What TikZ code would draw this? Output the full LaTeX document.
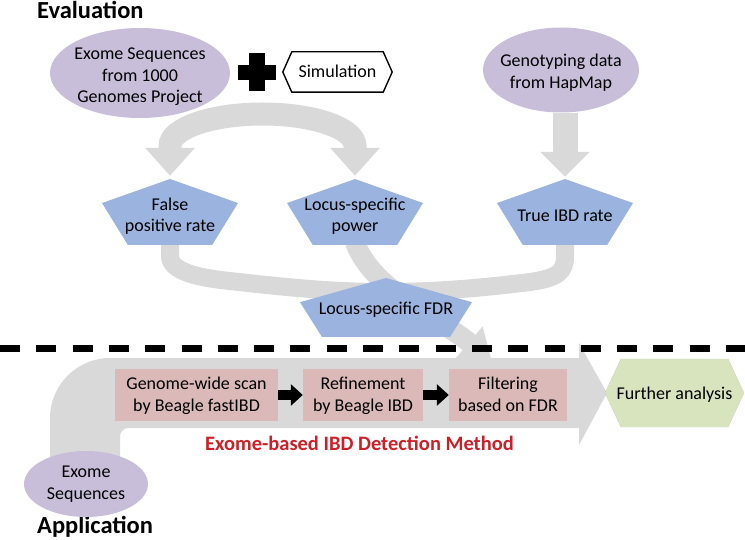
\documentclass[tikz,border=0pt]{standalone}
\usepackage{fontspec}
\setmainfont{Carlito}
\usetikzlibrary{arrows.meta,calc}
\definecolor{grayarrow}{RGB}{217,217,217}
\definecolor{lilac}{RGB}{200,190,218}
\definecolor{pentblue}{RGB}{155,179,223}
\definecolor{boxpink}{RGB}{218,185,184}
\definecolor{hexgreen}{RGB}{215,228,189}
\definecolor{methodred}{RGB}{206,30,38}
\pgfdeclarelayer{arrowlayer}
\pgfdeclarelayer{shapelayer}
\pgfsetlayers{arrowlayer,shapelayer,main}
% text block lowered by #1 without changing its box
\newcommand{\lowtext}[2]{\raisebox{-#1}[\height][\depth]{\begin{tabular}{@{}c@{}}#2\end{tabular}}}
\tikzset{
  lbl/.style={font=\fontsize{18}{21.5}\selectfont, inner sep=0pt, text=black},
  heading/.style={font=\fontsize{24.5}{28}\selectfont\bfseries, inner sep=0pt, anchor=base west},
  pentfill/.style n args={2}{path picture={\fill[pentblue]
      (path picture bounding box.north)
      -- ($(path picture bounding box.north east)!#1!(path picture bounding box.south east)$)
      -- ($(path picture bounding box.south east)!#2!(path picture bounding box.south west)$)
      -- ($(path picture bounding box.south west)!#2!(path picture bounding box.south east)$)
      -- ($(path picture bounding box.north west)!#1!(path picture bounding box.south west)$)
      -- cycle;}},
  hexfill/.style={path picture={\fill[hexgreen]
      (path picture bounding box.west)
      -- ($(path picture bounding box.north west)+(#1,0)$)
      -- ($(path picture bounding box.north east)+(-#1,0)$)
      -- (path picture bounding box.east)
      -- ($(path picture bounding box.south east)+(-#1,0)$)
      -- ($(path picture bounding box.south west)+(#1,0)$)
      -- cycle;}},
  gband/.style={draw=grayarrow, line width=#1},
  stepbox/.style={lbl, fill=boxpink, minimum height=52pt},
}
\begin{document}
\begin{tikzpicture}[x=1pt,y=-1pt]
\useasboundingbox (0,0) rectangle (745,540);

% ---------- nodes ----------
\node[heading] (eval) at (37,19) {Evaluation};
\node[heading] (app) at (37,533) {Application};

\node[lbl, minimum width=180pt, minimum height=90pt,
      path picture={\fill[lilac] (path picture bounding box.center) ellipse [x radius=90pt, y radius=45pt];}]
      (kg) at (140,73) {\lowtext{4pt}{Exome Sequences\\from 1000\\Genomes Project}};
\node[lbl, minimum width=109pt, minimum height=40pt] (sim) at (337.5,72) {\lowtext{1pt}{Simulation}};
\node[lbl, minimum width=156pt, minimum height=85pt,
      path picture={\fill[lilac] (path picture bounding box.center) ellipse [x radius=78pt, y radius=42.5pt];}]
      (hap) at (561,70) {\lowtext{3pt}{Genotyping data\\from HapMap}};

\node[lbl, minimum width=136pt, minimum height=66pt, pentfill={0.364}{0.19}] (fp) at (170,212) {\lowtext{4.5pt}{False\\positive rate}};
\node[lbl, minimum width=136pt, minimum height=66pt, pentfill={0.364}{0.19}] (pow) at (355,212) {\lowtext{4.5pt}{Locus-specific\\power}};
\node[lbl, minimum width=136pt, minimum height=66pt, pentfill={0.364}{0.19}] (tib) at (565,212) {\lowtext{5pt}{True IBD rate}};
\node[lbl, minimum width=172pt, minimum height=59pt, pentfill={0.41}{0.128}] (fdr) at (386,307.5) {\lowtext{2.5pt}{Locus-specific FDR}};

\node[stepbox, minimum width=163pt] (gws) at (196.5,395) {\lowtext{1pt}{Genome-wide scan\\by Beagle fastIBD}};
\node[stepbox, minimum width=120pt] (ref) at (363,395) {\lowtext{1pt}{Refinement\\by Beagle IBD}};
\node[stepbox, minimum width=118pt] (flt) at (508,395) {\lowtext{1pt}{Filtering\\based on FDR}};
\node[lbl, minimum width=139pt, minimum height=68pt, hexfill=16pt] (fa) at (674.5,393) {\lowtext{2pt}{Further analysis}};
\node[lbl, minimum width=124pt, minimum height=66pt,
      path picture={\fill[lilac] (path picture bounding box.center) ellipse [x radius=62pt, y radius=33pt];}]
      (ex) at (86,484) {\lowtext{0pt}{Exome\\Sequences}};
\node[lbl, font=\fontsize{20.5}{22}\selectfont\bfseries, text=methodred] (meth) at (359.5,443) {Exome-based IBD Detection Method};

% plus sign
\fill[black] (249,53) rectangle (265,91);
\fill[black] (238,65) rectangle (276,80);

% black step arrows
\draw[line width=10pt, -{Triangle[width=21pt,length=12pt]}] (gws.east) -- (ref.west);
\draw[line width=10pt, -{Triangle[width=21pt,length=12pt]}] (ref.east) -- (flt.west);

% ---------- shapes under the text ----------
\begin{pgfonlayer}{shapelayer}
  \draw[line width=1.4pt, fill=white] (sim.west) -- ($(sim.north west)+(9pt,0)$) -- ($(sim.north east)+(-9pt,0)$)
      -- (sim.east) -- ($(sim.south east)+(-9pt,0)$) -- ($(sim.south west)+(9pt,0)$) -- cycle;
  % shadow of further analysis
  \fill[black, opacity=0.22, shift={(1.2pt,-2.2pt)}] (fa.west) -- ($(fa.north west)+(16pt,0)$) -- ($(fa.north east)+(-16pt,0)$)
      -- (fa.east) -- ($(fa.south east)+(-16pt,0)$) -- ($(fa.south west)+(16pt,0)$) -- cycle;
  % dashed separator
  \draw[line width=6.5pt, dash pattern=on 20pt off 16.3pt] (0,348.5) -- (745,348.5);
\end{pgfonlayer}

% ---------- gray flow arrows ----------
\begin{pgfonlayer}{arrowlayer}
  % arc from 1000 Genomes to FPR and power
  \draw[gband=23pt, {Triangle[width=48pt,length=28pt]}-{Triangle[width=48pt,length=28pt]}]
    ($(fp.north)+(0,-3)$) -- (170,146) .. controls (170,128.3) and (211.4,114) .. (262.5,114)
    .. controls (313.6,114) and (355,128.3) .. (355,146) -- ($(pow.north)+(0,-3)$);
  % HapMap to true IBD rate
  \draw[gband=25pt, -{Triangle[width=48pt,length=25pt]}] (tib.north |- hap.south) -- ($(tib.north)+(0,-2)$);
  % swoosh FPR / true IBD -> FDR
  \draw[gband=18pt] ($(fp.south)+(0,-4)$) -- (170,256) .. controls (170,272) and (200,278) .. (230,281)
    .. controls (300,289) and (340,292) .. (386,292) .. controls (440,292) and (490,287) .. (530,282)
    .. controls (558,278) and (565,272) .. (565,256) -- ($(tib.south)+(0,-4)$);
  % power -> FDR -> method
  \draw[gband=20pt, -{Triangle[width=40pt,length=30pt]}] ($(pow.south)+(0,-3)$) .. controls (372,290) and (440,318) .. ($(flt.north)+(-16,-7)$);
  % big application arrow
  \fill[grayarrow] (50,480) -- (50,418) .. controls (50,385) and (77,358) .. (110,358) -- (579,358) -- (579,343)
    -- (607,393) -- (579,445) -- (579,428) -- (128,428) .. controls (124,428) and (120,432) .. (120,436) -- (120,480) -- cycle;
\end{pgfonlayer}
\end{tikzpicture}
\end{document}
